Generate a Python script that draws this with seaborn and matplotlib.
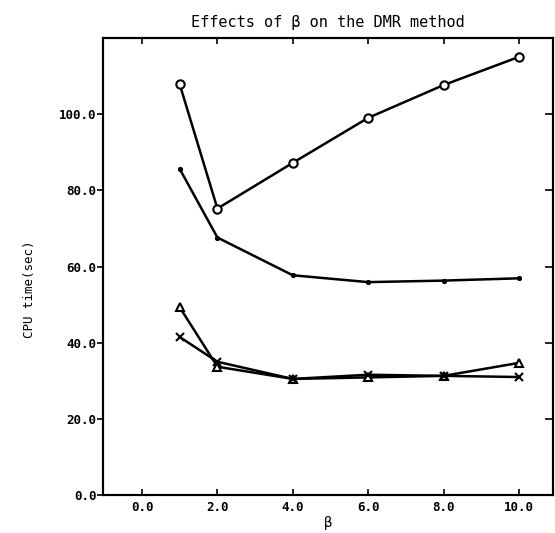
import pandas as pd
import matplotlib.pyplot as plt
import seaborn as sns

# values
beta = [1, 2, 4, 6, 8, 10]
circle_vals = [107.8, 75.2, 87.2, 99.0, 107.6, 115.0]
dot_vals = [85.6, 67.6, 57.7, 55.9, 56.3, 56.9]
tri_vals = [49.3, 33.7, 30.5, 30.9, 31.3, 34.7]
cross_vals = [41.5, 35.0, 30.5, 31.6, 31.3, 31.0]

x_ticks = [0, 2, 4, 6, 8, 10]
y_ticks = [0, 20, 40, 60, 80, 100]

sns.set_style("ticks")
plt.rcParams["font.family"] = ["DejaVu Sans Mono"]
plt.rcParams["text.color"] = "black"
plt.rcParams["axes.labelcolor"] = "black"
plt.rcParams["xtick.color"] = "black"
plt.rcParams["ytick.color"] = "black"

fig = plt.figure(figsize=(5.55, 5.33), dpi=100)
ax = fig.add_axes([0.186, 0.071, 0.81, 0.858])

series = [
    (circle_vals, dict(marker="o", markersize=6, markerfacecolor="white", markeredgewidth=1.5)),
    (dot_vals, dict(marker="o", markersize=3, markerfacecolor="black")),
    (tri_vals, dict(marker="^", markersize=6, markerfacecolor="white", markeredgewidth=1.5)),
    (cross_vals, dict(marker="x", markersize=6, markeredgewidth=1.5)),
]
for vals, kw in series:
    sns.lineplot(x=beta, y=vals, ax=ax, color="black", linewidth=1.8,
                 markeredgecolor="black", **kw)

ax.set_xlim(-1.03, 10.9)
ax.set_ylim(0, 120)
ax.set_xticks(x_ticks)
ax.set_xticklabels([f"{v:.1f}" for v in x_ticks], fontsize=9, fontweight="bold")
ax.set_yticks(y_ticks)
ax.set_yticklabels([f"{v:.1f}" for v in y_ticks], fontsize=9, fontweight="bold")
ax.tick_params(axis="x", direction="in", top=True, length=4, width=1.2, pad=4)
ax.tick_params(axis="y", direction="out", right=False, length=4, width=1.2, pad=1)

# right-side inward ticks
ax2 = ax.twinx()
ax2.set_ylim(ax.get_ylim())
ax2.set_yticks(y_ticks[1:])
ax2.set_yticklabels([])
ax2.tick_params(axis="y", direction="in", length=6, width=1.2)

for a in (ax, ax2):
    for s in a.spines.values():
        s.set_linewidth(1.5)
        s.set_color("black")

ax.set_xlabel("β", fontsize=10, labelpad=2)
ax.set_ylabel("CPU time(sec)", fontsize=9)
ax.yaxis.set_label_coords(-0.15, 0.45)
ax.set_title("Effects of β on the DMR method", fontsize=11, pad=8)

fig.savefig("out.png", dpi=100)
